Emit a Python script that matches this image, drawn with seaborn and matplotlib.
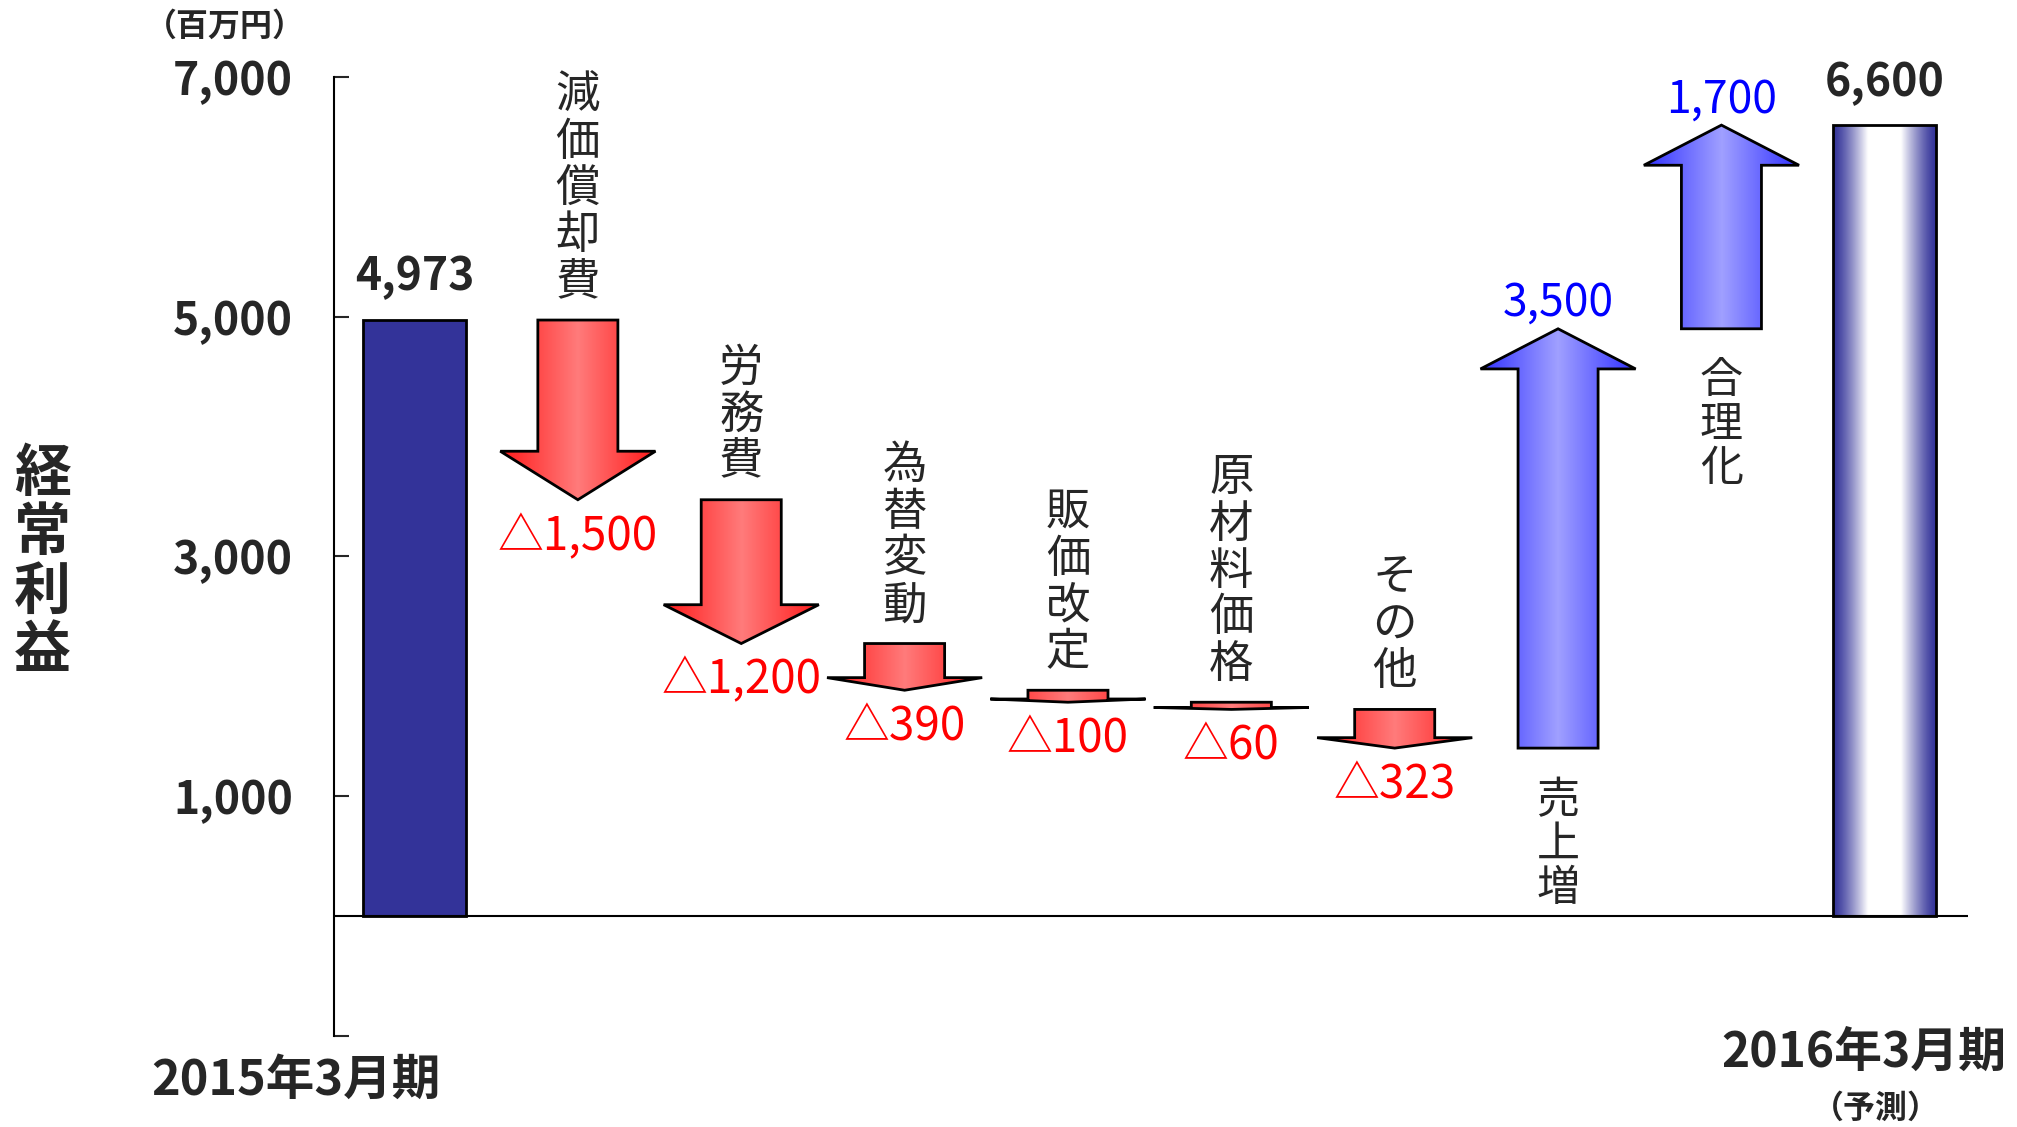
import matplotlib
matplotlib.use('Agg')

import numpy as np
import pandas as pd
import seaborn as sns
import matplotlib.pyplot as plt
from matplotlib.patches import Polygon
from matplotlib.colors import to_rgb


# data
steps = ['2015年3月期', '減価償却費', '労務費', '為替変動', '販価改定',
         '原材料価格', 'その他', '売上増', '合理化', '2016年3月期']
start_value = 4973
end_value = 6600
deltas = [-1500, -1200, -390, -100, -60, -323, 3500, 1700]
y_ticks = [-1000, 1000, 3000, 5000, 7000]
y_tick_labels = ['', '1,000', '3,000', '5,000', '7,000']

sns.set_style('white')
plt.rcParams['font.family'] = ['Noto Sans CJK JP', 'DejaVu Sans']

W, H = 1568, 876
fig = plt.figure(figsize=(20.17, 11.27), dpi=100)
ax = fig.add_axes([260 / W, 1 - 805 / H, (1530 - 260) / W, (805 - 60) / H])


def gradient(ax, clip, x0, x1, y0, y1, edge, center, ramp):
    u = np.linspace(-1, 1, 400)
    t = ramp(np.abs(u))
    e, c = np.array(to_rgb(edge)), np.array(to_rgb(center))
    cols = e + (c - e) * t[:, None]
    im = ax.imshow(cols[None, :, :], extent=[x0, x1, y0, y1], aspect='auto',
                   origin='lower', interpolation='bilinear', zorder=2)
    im.set_clip_path(clip)
    return im


# total bars
totals = pd.DataFrame({'step': [steps[0], steps[-1]], 'value': [start_value, end_value]})
sns.barplot(data=totals, x='step', y='value', order=steps, color='#333399',
            saturation=1, width=0.63, edgecolor='black', linewidth=2, ax=ax)

for p in ax.patches:
    if p.get_x() + p.get_width() / 2 > 5:
        p.set_facecolor('none')
        p.set_zorder(3)
        gradient(ax, p, p.get_x(), p.get_x() + p.get_width(), 0, p.get_height(),
                 '#333399', '#ffffff', lambda a: np.clip((1 - a) / 0.68, 0, 1) ** 1.3)

# bar value labels
for x, v in [(0, start_value), (len(steps) - 1, end_value)]:
    ax.annotate(f'{v:,}', (x, v), xytext=(0, 14), textcoords='offset points',
                ha='center', va='bottom', fontsize=32, fontweight='bold')

# arrows
sw, hw = 0.245, 0.475
level = start_value
for i, d in enumerate(deltas):
    x = i + 1
    y0, y1 = level, level + d
    level = y1
    s = np.sign(d)
    head = 0.27 * abs(d) if d < 0 else 335
    yb = y1 - s * head
    pts = [(x - sw, y0), (x + sw, y0), (x + sw, yb), (x + hw, yb), (x, y1),
           (x - hw, yb), (x - sw, yb)]
    poly = Polygon(pts, closed=True, facecolor='none', edgecolor='black',
                   linewidth=2, zorder=3, joinstyle='miter')
    ax.add_patch(poly)
    if d < 0:
        gradient(ax, poly, x - hw, x + hw, min(y0, y1), max(y0, y1),
                 '#ff1a1a', '#ff7b7b', lambda a: 1 - a)
    else:
        gradient(ax, poly, x - hw, x + hw, min(y0, y1), max(y0, y1),
                 '#3030ff', '#a0a0ff', lambda a: 1 - a)

    name = '\n'.join(steps[x])
    if d < 0:
        ax.annotate(name, (x, y0), xytext=(0, 11), textcoords='offset points',
                    ha='center', va='bottom', fontsize=32, linespacing=1.02)
        ax.annotate(f'△{abs(d):,}', (x, y1), xytext=(0, -9), textcoords='offset points',
                    ha='center', va='top', fontsize=33, color='#ff0000')
    else:
        ax.annotate(name, (x, y0), xytext=(0, -22), textcoords='offset points',
                    ha='center', va='top', fontsize=31, linespacing=1.0)
        ax.annotate(f'{d:,}', (x, y1), xytext=(0, 2), textcoords='offset points',
                    ha='center', va='bottom', fontsize=32, color='#0000ff')

ax.axhline(0, color='black', linewidth=1.5, zorder=4)

ax.set_xlim(-0.49, 9.51)
ax.set_ylim(-1000, 7000)
ax.set_xticks([])
ax.set_yticks(y_ticks)
ax.set_yticklabels(y_tick_labels, fontsize=32, fontweight='bold')
ax.tick_params(axis='y', direction='in', length=11, width=1.5, pad=30, left=True)
ax.set_xlabel('')
ax.set_ylabel('')
sns.despine(ax=ax, bottom=True)
ax.spines['left'].set_linewidth(1.5)
ax.spines['left'].set_color('black')

# text outside the plot
fig.text(175 / W, 1 - 21 / H, '（百万円）', ha='center', va='center',
         fontsize=23, fontweight='bold')
fig.text(33 / W, 1 - 437 / H, '\n'.join('経常利益'), ha='center', va='center',
         fontsize=41, fontweight='bold', linespacing=1.02)
fig.text(230 / W, 1 - 840 / H, '2015年3月期', ha='center', va='center',
         fontsize=35, fontweight='bold')
fig.text(1449 / W, 1 - 818 / H, '2016年3月期', ha='center', va='center',
         fontsize=34.5, fontweight='bold')
fig.text(1458 / W, 1 - 862 / H, '（予測）', ha='center', va='center',
         fontsize=23, fontweight='bold')

fig.savefig('out.png', dpi=100)
